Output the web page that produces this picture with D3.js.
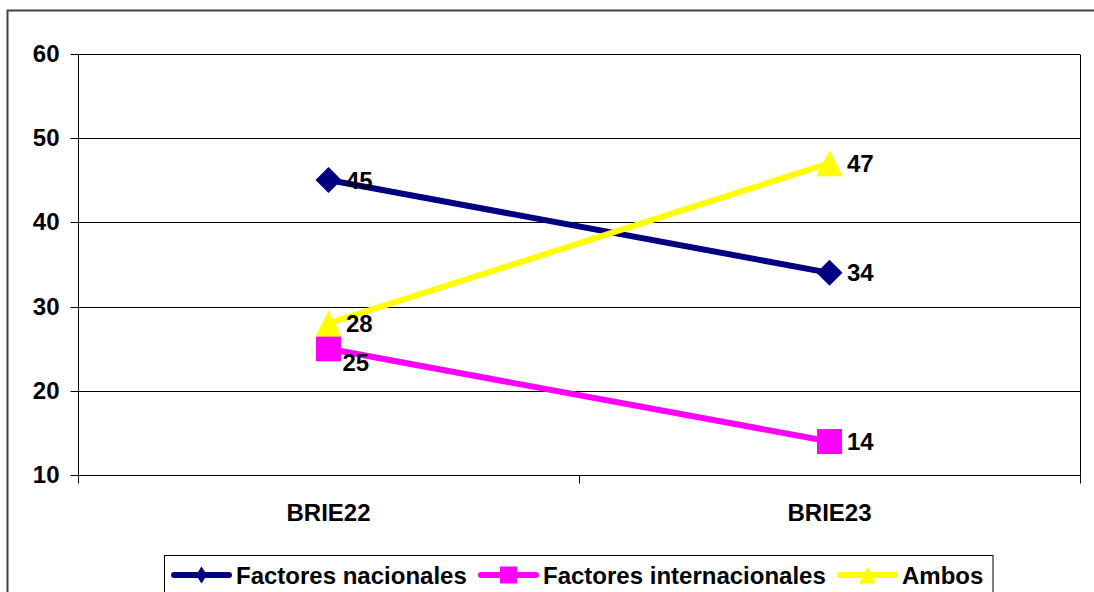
<!DOCTYPE html>
<html><head><meta charset="utf-8">
<script src="https://cdn.jsdelivr.net/npm/d3@7"></script>
<style>html,body{margin:0;padding:0;background:#fff;overflow:hidden}svg{display:block;overflow:hidden}text{font-family:"Liberation Sans",Arial,sans-serif;font-weight:bold}</style>
</head><body>
<script>
const categories = ["BRIE22", "BRIE23"];
const seriesNames = ["Factores nacionales", "Factores internacionales", "Ambos"];
const nacionales = [45, 34];
const internacionales = [25, 14];
const ambos = [28, 47];
const yTicks = [10, 20, 30, 40, 50, 60];

const W = 1094, H = 592, FS = 24;
const svg = d3.select("body").append("svg").attr("width", W).attr("height", H);

// outer chart border (right and bottom edges fall outside the picture)
svg.append("path").attr("d", "M7.5,700V10.5H1200")
  .attr("fill", "none").attr("stroke", "#404040").attr("stroke-width", 2);

const L = 78, R = 1080, T = 53.5, B = 475.3;
const x = d3.scaleBand().domain(categories).range([L, R]);
const y = d3.scaleLinear().domain([10, 60]).range([B, T]);

// gridlines
svg.append("g").selectAll("line").data(yTicks).join("line")
  .attr("x1", L).attr("x2", R).attr("y1", d => Math.round(y(d)) + 0.5).attr("y2", d => Math.round(y(d)) + 0.5)
  .attr("stroke", "#000").attr("stroke-width", 1);
// right border
svg.append("line").attr("x1", R + 0.5).attr("x2", R + 0.5).attr("y1", Math.round(T) + 0.5).attr("y2", Math.round(B) + 0.5).attr("stroke", "#000");

// y axis
const yAxis = d3.axisLeft(y).tickValues(yTicks).tickSize(8).tickPadding(11).tickFormat(d3.format("d"));
const gy = svg.append("g").attr("transform", `translate(${L + 0.5},0.5)`).call(yAxis);
gy.attr("font-family", null).attr("font-size", null);
gy.selectAll("text").attr("font-size", FS).attr("font-weight", "bold").attr("fill", "#000");
gy.selectAll("line,path").attr("stroke", "#000");
gy.select(".domain").attr("d", `M0,${Math.round(T)}V${Math.round(B)}`);
gy.selectAll(".tick").attr("transform", d => `translate(0,${Math.round(y(d))})`);

// x axis
const xAxis = d3.axisBottom(x).tickSize(0).tickPadding(28);
const gx = svg.append("g").attr("transform", `translate(0,${Math.round(B) + 0.5})`).call(xAxis);
gx.attr("font-family", null).attr("font-size", null);
gx.select(".domain").attr("stroke", "#000").attr("d", `M${L},0H${R}`);
gx.selectAll("text").attr("font-size", FS).attr("font-weight", "bold").attr("fill", "#000");
// category boundary ticks
const bounds = [L, ...categories.map(c => x(c) + x.bandwidth())];
gx.append("g").selectAll("line").data(bounds).join("line")
  .attr("x1", d => Math.round(d) + 0.5).attr("x2", d => Math.round(d) + 0.5).attr("y1", 0).attr("y2", 8).attr("stroke", "#000");

const series = [
  {name: seriesNames[0], values: nacionales, color: "#000080", sym: "diamond"},
  {name: seriesNames[1], values: internacionales, color: "#FF00FF", sym: "square"},
  {name: seriesNames[2], values: ambos, color: "#FFFF00", sym: "triangle"}
];
const cx = c => x(c) + x.bandwidth() / 2;

function marker(g, sym, color, px, py, s, w) {
  w = w || s;
  if (sym === "diamond") {
    g.append("path").attr("d", `M${px},${py - s}L${px + w},${py}L${px},${py + s}L${px - w},${py}Z`).attr("fill", color);
  } else if (sym === "square") {
    g.append("rect").attr("x", px - s).attr("y", py - s).attr("width", 2 * s).attr("height", 2 * s).attr("fill", color);
  } else {
    g.append("path").attr("d", `M${px},${py - s}L${px + s},${py + s}L${px - s},${py + s}Z`).attr("fill", color);
  }
}

const line = d3.line().x((d, i) => cx(categories[i])).y(d => y(d));
series.forEach(s => {
  const g = svg.append("g");
  g.append("path").datum(s.values).attr("d", line).attr("fill", "none").attr("stroke", s.color).attr("stroke-width", 6);
  s.values.forEach((v, i) => marker(g, s.sym, s.color, cx(categories[i]), y(v), s.sym === "square" ? 12.5 : 13));
});

// data labels
const labelOffsets = {"1-0": 14};
series.forEach((s, si) => {
  s.values.forEach((v, i) => {
    svg.append("text").attr("x", cx(categories[i]) + (i === 0 && si === 1 ? 14 : 17.5))
      .attr("y", y(v) + (labelOffsets[si + "-" + i] || 0)).attr("dy", "0.36em")
      .attr("font-size", FS).attr("fill", "#000").text(v);
  });
});

// legend
const lg = svg.append("g");
lg.append("rect").attr("x", 164.5).attr("y", 555.5).attr("width", 828.5).attr("height", 60)
  .attr("fill", "#fff").attr("stroke", "#000").attr("stroke-width", 1);
const legX = [171, 478, 837];
series.forEach((s, i) => {
  const g = lg.append("g");
  const ly = 575;
  g.append("line").attr("x1", legX[i] + 3).attr("x2", legX[i] + 58).attr("y1", ly).attr("y2", ly)
    .attr("stroke", s.color).attr("stroke-width", 6).attr("stroke-linecap", "round");
  marker(g, s.sym, s.color, legX[i] + 30.5, ly, 8.5, s.sym === "diamond" ? 5.5 : null);
  g.append("text").attr("x", legX[i] + 65).attr("y", ly).attr("dy", "0.36em").attr("font-size", FS).text(s.name);
});
</script>
</body></html>
